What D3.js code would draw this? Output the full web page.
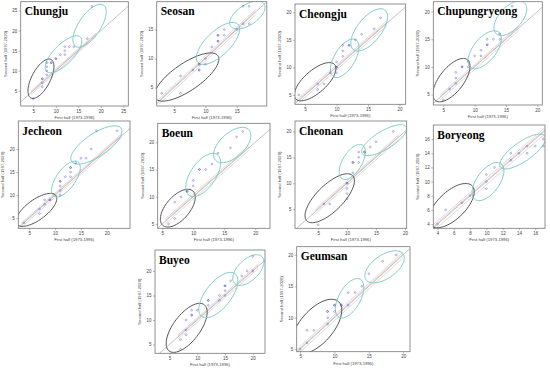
<!DOCTYPE html>
<html>
<head>
<meta charset="utf-8">
<script src="https://cdn.jsdelivr.net/npm/d3@7"></script>
<style>
body { margin: 0; background: #fff; }
</style>
</head>
<body>
<div id="chart"></div>
<script>
// station names, one panel each
let stations = ["Chungju", "Seosan", "Cheongju", "Chupungryeong", "Jecheon",
    "Boeun", "Cheonan", "Boryeong", "Buyeo", "Geumsan"];

// axis limits (first half on x, second half on y)
let xLims = [[2.2, 26.1], [2.2, 19.8], [3.4, 21], [3.4, 20.8], [2.9, 24.5],
    [4.25, 22.4], [1, 20.3], [3.48, 17.2], [2.4, 22.2], [4.5, 21]];
let yLims = [[1.2, 27.2], [1.8, 19.8], [3.3, 21.5], [3.1, 21.8], [2.8, 26.1],
    [4.2, 23.5], [1.3, 22], [3.4, 18], [3.2, 24.3], [4.6, 21.3]];

let xTicks = [[5, 10, 15, 20, 25], [5, 10, 15], [5, 10, 15, 20], [5, 10, 15, 20], [5, 10, 15, 20],
    [5, 10, 15, 20], [5, 10, 15, 20], [4, 6, 8, 10, 12, 14, 16], [5, 10, 15, 20], [5, 10, 15, 20]];
let yTicks = [[5, 10, 15, 20, 25], [5, 10, 15], [5, 10, 15, 20], [5, 10, 15, 20], [5, 10, 15, 20],
    [5, 10, 15, 20], [5, 10, 15, 20], [4, 6, 8, 10, 12, 14, 16], [5, 10, 15, 20], [5, 10, 15, 20]];

// [first half, second half] pairs per station
let points = [
    [[5,3],[7,6],[7,7],[7,8],[7,8],[8,9],[8,10],[8,11],[8,12],[9,12],[9,12],[10,13],[10,13],[11,14],[12,14],[12,15],[12,16],[13,16],[14,16],[17,18],[18,26]],
    [[3,4],[6,4],[6,7],[8,8],[9,8],[9,8],[9,9],[9,9],[10,9],[10,10],[11,12],[12,13],[12,13],[12,14],[12,14],[13,14],[13,15],[15,15],[16,16],[16,19],[17,19],[17,16]],
    [[4,5],[7,6],[7,7],[8,7],[9,9],[10,9],[10,10],[10,10],[10,11],[11,12],[11,13],[11,14],[12,14],[12,14],[13,15],[14,16],[16,17],[17,19]],
    [[5,4],[6,6],[7,7],[7,8],[7,9],[8,10],[8,10],[9,10],[9,11],[10,12],[11,12],[11,13],[12,14],[12,14],[12,15],[13,15],[14,15],[14,16],[16,19],[16,21]],
    [[4,4],[7,6],[7,7],[8,8],[8,9],[9,9],[9,9],[11,10],[11,11],[11,12],[11,13],[11,13],[12,14],[13,14],[13,15],[13,16],[13,16],[14,17],[15,18],[16,18],[17,20],[18,24],[22,24]],
    [[6,5],[7,6],[7,9],[8,10],[9,11],[9,11],[10,12],[10,13],[11,15],[11,15],[12,15],[13,16],[14,18],[16,19],[17,21],[18,22]],
    [[5,2],[6,6],[7,6],[10,7],[10,8],[10,9],[10,10],[10,10],[11,12],[11,14],[11,14],[12,14],[12,15],[12,16],[13,16],[13,16],[14,17],[15,18],[18,20]],
    [[4,4],[5,6],[7,7],[8,8],[10,9],[10,10],[10,11],[11,12],[13,13],[13,14],[14,14],[15,14],[15,15],[16,15],[17,15],[17,16]],
    [[7,4],[7,6],[8,7],[8,8],[8,10],[9,11],[9,11],[9,12],[10,12],[12,13],[12,14],[12,14],[14,14],[14,15],[15,15],[15,16],[15,17],[15,17],[16,18],[18,19],[19,20],[20,20],[20,23]],
    [[5,5],[6,6],[6,8],[7,8],[9,9],[9,10],[9,11],[9,11],[10,11],[10,12],[10,12],[11,12],[11,12],[12,12],[12,14],[13,14],[14,15],[15,17],[17,19],[19,20]]
];

// cluster ellipses in data units: [cx, cy, semi major, semi minor, angle deg]
let clusters = [
    [[6.7,8,5.3,2.1,66], [11.7,14.1,5.7,2.3,50], [17.5,21.2,6,2.5,60]],
    [[7,6.8,6.2,2.3,37], [12,12.6,4.6,2,47], [16.7,17.5,3.3,1.7,37]],
    [[6.6,7.4,4.4,1.9,47], [11.3,11.65,3.8,1.7,64], [15.2,16.8,4.4,2,57]],
    [[6.3,7.6,4.5,2,57], [11.6,13.1,3.9,1.9,57], [15.7,18.8,3.6,1.9,54]],
    [[6.4,6.8,4.9,2.1,41], [12.1,13.5,4.4,1.9,59], [18,20.9,6,2.4,38]],
    [[7.5,7.9,4,2,55], [11.6,14,4.4,2.1,61], [16.3,19.5,3.9,2.1,49]],
    [[7,7.1,5.9,2.4,49], [10.9,14.1,3.7,1.7,63], [16.4,18.3,4.6,1.7,35]],
    [[5.7,6.6,3.8,1.8,50], [10.2,10,3,1.45,60], [14.45,14.25,3.5,1.3,40]],
    [[8.1,8.4,5.7,2.5,58], [13.8,15.1,5.3,2.4,57], [19.2,20.2,3.7,2,51]],
    [[7.4,8.6,5.1,2.5,53], [12.2,13.1,3.4,1.6,64], [17.3,18.1,3.4,1.8,39]]
];

// panel boxes on the page: left, top, right, bottom
let boxes = [
    [20.7,1.7,128.3,106], [156.7,1.7,266.8,106], [295,4,405.7,104.3], [433.3,1.7,542.3,105],
    [18.3,121,130,228.3], [157.7,123.3,270,228.3], [295,121,406.7,228.3], [433.3,125,545,228.3],
    [155,250,265,353.3], [296.7,246.7,410,351.7]
];

let ellipseColors = ["#555", "#80cdc9", "#80cdc9"];

let svg = d3.select("#chart").append("svg")
    .attr("width", 550)
    .attr("height", 373)
    .style("font-family", "'Liberation Sans', Arial, sans-serif");

stations.forEach(function (name, i) {
    let b = boxes[i];
    let x = d3.scaleLinear().domain(xLims[i]).range([b[0], b[2]]);
    let y = d3.scaleLinear().domain(yLims[i]).range([b[3], b[1]]);
    let g = svg.append("g");

    g.append("clipPath").attr("id", "clip" + i)
        .append("rect")
        .attr("x", b[0]).attr("y", b[1])
        .attr("width", b[2] - b[0]).attr("height", b[3] - b[1]);

    let plot = g.append("g").attr("clip-path", "url(#clip" + i + ")");

    // 1:1 line
    let lo = Math.min(xLims[i][0], yLims[i][0]), hi = Math.max(xLims[i][1], yLims[i][1]);
    plot.append("line")
        .attr("x1", x(lo)).attr("y1", y(lo))
        .attr("x2", x(hi)).attr("y2", y(hi))
        .attr("stroke", "#aaa").attr("stroke-width", 0.7);

    // trend band round the diagonal
    let xs = points[i].map(function (d) { return d[0]; });
    let x0 = d3.min(xs) - 0.5, x1 = d3.max(xs) + 1;
    [[-0.45, "#c4c4c4"], [0.45, "#c4c4c4"], [0.15, "#e2a4a4"]].forEach(function (o) {
        plot.append("line")
            .attr("x1", x(x0)).attr("y1", y(x0 + o[0]))
            .attr("x2", x(x1)).attr("y2", y(x1 + o[0]))
            .attr("stroke", o[1]).attr("stroke-width", 0.6);
    });

    // clusters
    let line = d3.line().x(function (d) { return x(d[0]); }).y(function (d) { return y(d[1]); })
        .curve(d3.curveLinearClosed);
    clusters[i].forEach(function (e, k) {
        let th = e[4] * Math.PI / 180;
        let pts = d3.range(72).map(function (j) {
            let t = j / 72 * 2 * Math.PI;
            return [e[0] + e[2] * Math.cos(th) * Math.cos(t) - e[3] * Math.sin(th) * Math.sin(t),
                    e[1] + e[2] * Math.sin(th) * Math.cos(t) + e[3] * Math.cos(th) * Math.sin(t)];
        });
        plot.append("path")
            .attr("d", line(pts))
            .attr("fill", "none")
            .attr("stroke", ellipseColors[k])
            .attr("stroke-width", 1);
    });

    // points
    plot.selectAll("circle")
        .data(points[i])
        .enter().append("circle")
        .attr("cx", function (d) { return x(d[0]); })
        .attr("cy", function (d) { return y(d[1]); })
        .attr("r", 0.9)
        .attr("fill", "none")
        .attr("stroke", "#3a3ac4")
        .attr("stroke-opacity", 0.6)
        .attr("stroke-width", 0.6);

    // frame
    g.append("rect")
        .attr("x", b[0]).attr("y", b[1])
        .attr("width", b[2] - b[0]).attr("height", b[3] - b[1])
        .attr("fill", "none").attr("stroke", "#777").attr("stroke-width", 0.8);

    // axes
    let xAxis = d3.axisBottom(x).tickValues(xTicks[i]).tickSize(2).tickPadding(1.5);
    let yAxis = d3.axisLeft(y).tickValues(yTicks[i]).tickSize(2).tickPadding(1.5);
    let ga = g.append("g").attr("transform", "translate(0," + b[3] + ")").call(xAxis);
    let gb = g.append("g").attr("transform", "translate(" + b[0] + ",0)").call(yAxis);
    [ga, gb].forEach(function (a) {
        a.select(".domain").remove();
        a.selectAll("line").attr("stroke", "#777").attr("stroke-width", 0.5);
        a.selectAll("text").attr("font-size", 4.5).attr("fill", "#444")
            .attr("font-family", "'Liberation Sans', Arial, sans-serif");
    });

    g.append("text")
        .attr("x", (b[0] + b[2]) / 2).attr("y", b[3] + 13)
        .attr("text-anchor", "middle")
        .attr("font-size", 4.2).attr("fill", "#444")
        .text("First half (1973-1996)");

    g.append("text")
        .attr("transform", "translate(" + (b[0] - 14) + "," + ((b[1] + b[3]) / 2) + ") rotate(-90)")
        .attr("text-anchor", "middle")
        .attr("font-size", 4.2).attr("fill", "#444")
        .text("Second half (1997-2020)");

    // station name
    g.append("text")
        .attr("x", b[0] + 4).attr("y", b[1] + 13.5)
        .attr("font-family", "'Liberation Serif', 'Times New Roman', serif")
        .attr("font-weight", "bold")
        .attr("font-size", 11.5)
        .attr("fill", "#000")
        .text(name);
});
</script>
</body>
</html>
